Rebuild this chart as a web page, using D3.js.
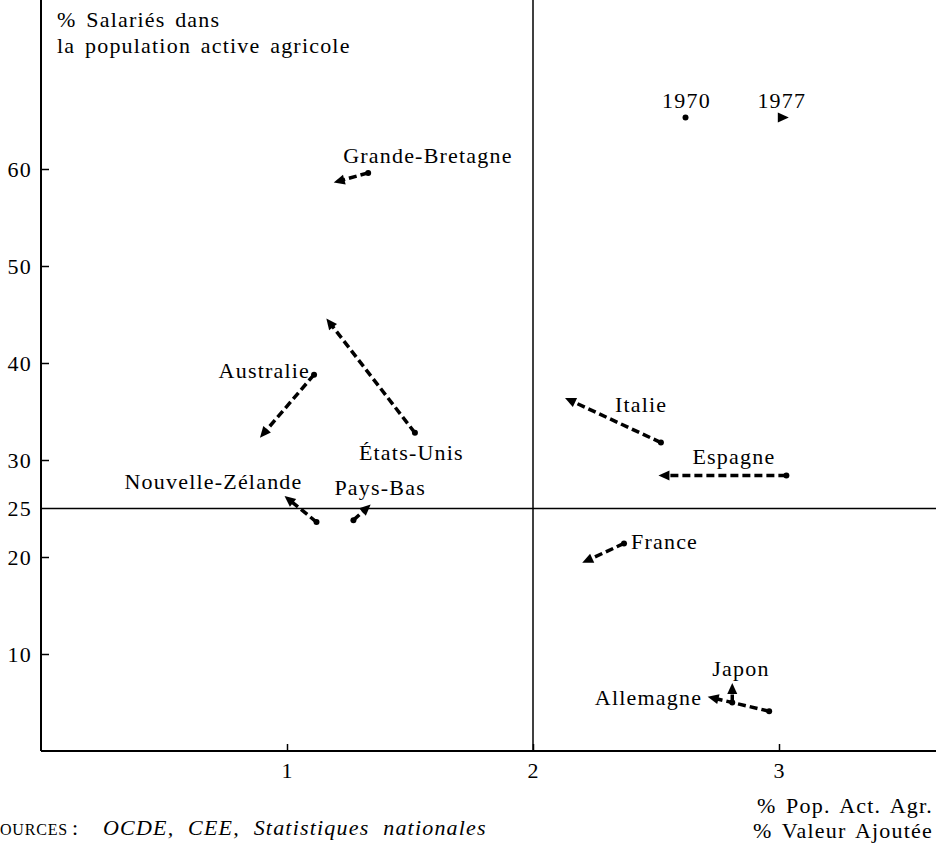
<!DOCTYPE html>
<html>
<head>
<meta charset="utf-8">
<script src="https://cdn.jsdelivr.net/npm/d3@7"></script>
<style>
  body { margin: 0; background: #fff; }
  svg { display: block; }
  text { font-family: "Liberation Serif", "DejaVu Serif", serif; fill: #000; }
</style>
</head>
<body>
<div id="chart"></div>
<script>
// country moves 1970 -> 1977
var countries = ["Grande-Bretagne", "États-Unis", "Australie", "Nouvelle-Zélande", "Pays-Bas",
                 "Italie", "Espagne", "France", "Japon", "Allemagne"];
var x1970 = [1.33, 1.52, 1.11, 1.12, 1.27, 2.52, 3.03, 2.37, 2.81, 2.96];
var y1970 = [59.6, 32.8, 38.8, 23.6, 23.8, 31.8, 28.4, 21.4, 5.0, 4.1];
var x1977 = [1.19, 1.16, 0.89, 0.99, 1.34, 2.13, 2.51, 2.20, 2.81, 2.71];
var y1977 = [58.6, 44.6, 32.3, 26.3, 25.4, 36.4, 28.4, 19.4, 7.0, 5.6];

var xTicks = [1, 2, 3];
var yTicks = [10, 20, 25, 30, 40, 50, 60];
var xSplit = 2;
var ySplit = 25;

// label placement, pixels from the 1970 point
var labelPos = {
    "Grande-Bretagne": [-25, -10, "start"],
    "États-Unis": [-56, 27, "start"],
    "Australie": [-4, 3, "end"],
    "Nouvelle-Zélande": [-14, -33, "end"],
    "Pays-Bas": [-19, -25, "start"],
    "Italie": [-46, -31, "start"],
    "Espagne": [-11, -12, "end"],
    "France": [7, 6, "start"],
    "Japon": [-20, -27, "start"],
    "Allemagne": [-67, -6, "end"]
};

var width = 936, height = 846;
var fontSize = 22;

var svg = d3.select("#chart").append("svg")
    .attr("width", width)
    .attr("height", height);

var x = d3.scaleLinear().domain([0, 3]).range([41, 779]);
var y = d3.scaleLinear().domain([0, 60]).range([751, 169]);

var textStyle = function(sel) {
    sel.style("font-size", fontSize + "px")
        .style("letter-spacing", "1.2px")
        .style("word-spacing", "3px");
};

// y axis
var yAxis = svg.append("g")
    .attr("transform", "translate(" + x(0) + ",0)")
    .call(d3.axisLeft(y).tickValues(yTicks).tickSize(-8).tickPadding(9).tickFormat(d3.format("d")));
yAxis.select(".domain").remove();
yAxis.selectAll(".tick").filter(function(d) { return d === ySplit; }).select("line").remove();
yAxis.selectAll("line").attr("stroke", "#000").attr("stroke-width", 1.5);
yAxis.selectAll("text").call(textStyle);

// x axis
var xAxis = svg.append("g")
    .attr("transform", "translate(0," + y(0) + ")")
    .call(d3.axisBottom(x).tickValues(xTicks).tickSize(-7).tickPadding(11).tickFormat(d3.format("d")));
xAxis.select(".domain").remove();
xAxis.selectAll("line").attr("stroke", "#000").attr("stroke-width", 1.5);
xAxis.selectAll("text").call(textStyle);

// axis lines and quadrant lines
svg.append("line")
    .attr("x1", x(0)).attr("x2", x(0))
    .attr("y1", 0).attr("y2", y(0))
    .attr("stroke", "#000").attr("stroke-width", 2);
svg.append("line")
    .attr("x1", x(0)).attr("x2", width)
    .attr("y1", y(0)).attr("y2", y(0))
    .attr("stroke", "#000").attr("stroke-width", 2);
svg.append("line")
    .attr("x1", x(xSplit)).attr("x2", x(xSplit))
    .attr("y1", 0).attr("y2", y(0))
    .attr("stroke", "#000").attr("stroke-width", 1.5);
svg.append("line")
    .attr("x1", x(0)).attr("x2", width)
    .attr("y1", y(ySplit)).attr("y2", y(ySplit))
    .attr("stroke", "#000").attr("stroke-width", 1.5);

// arrows
var headLen = 11, headHalf = 5;

var arrowHead = function(tx, ty, ang) {
    var bx = tx - headLen * Math.cos(ang), by = ty - headLen * Math.sin(ang);
    var px = -Math.sin(ang) * headHalf, py = Math.cos(ang) * headHalf;
    return [[tx, ty], [bx + px, by + py], [bx - px, by - py]];
};

var moves = countries.map(function(c, i) {
    return {name: c, x0: x1970[i], y0: y1970[i], x1: x1977[i], y1: y1977[i]};
});

var g = svg.append("g");

moves.forEach(function(d) {
    var sx = x(d.x0), sy = y(d.y0), ex = x(d.x1), ey = y(d.y1);
    var ang = Math.atan2(ey - sy, ex - sx);
    var lx = ex - (headLen - 2) * Math.cos(ang), ly = ey - (headLen - 2) * Math.sin(ang);

    g.append("line")
        .attr("x1", sx).attr("y1", sy)
        .attr("x2", lx).attr("y2", ly)
        .attr("stroke", "#000")
        .attr("stroke-width", 3.5)
        .attr("stroke-dasharray", "8,4");

    g.append("circle")
        .attr("cx", sx).attr("cy", sy).attr("r", 3)
        .attr("fill", "#000");

    g.append("polygon")
        .attr("points", arrowHead(ex, ey, ang).join(" "))
        .attr("fill", "#000");

    var lp = labelPos[d.name];
    g.append("text")
        .attr("x", sx + lp[0])
        .attr("y", sy + lp[1])
        .attr("text-anchor", lp[2])
        .text(d.name)
        .call(textStyle);
});

// legend
var legX0 = 2.62, legX1 = 3.04, legY = 65.3;
svg.append("circle")
    .attr("cx", x(legX0)).attr("cy", y(legY)).attr("r", 3)
    .attr("fill", "#000");
svg.append("polygon")
    .attr("points", arrowHead(x(legX1), y(legY), 0).join(" "))
    .attr("fill", "#000");
svg.append("text")
    .attr("x", x(legX0) + 1).attr("y", y(legY) - 10)
    .attr("text-anchor", "middle")
    .text("1970").call(textStyle);
svg.append("text")
    .attr("x", x(legX1) - 7).attr("y", y(legY) - 10)
    .attr("text-anchor", "middle")
    .text("1977").call(textStyle);

// titles
var yTitle = svg.append("text")
    .attr("x", 57).attr("y", 27)
    .call(textStyle);
yTitle.append("tspan").attr("x", 57).text("% Salariés dans");
yTitle.append("tspan").attr("x", 57).attr("dy", 26).text("la population active agricole");

var xTitle = svg.append("text")
    .attr("x", 933).attr("y", 813)
    .attr("text-anchor", "end")
    .call(textStyle);
xTitle.append("tspan").attr("x", 933).text("% Pop. Act. Agr.");
xTitle.append("tspan").attr("x", 933).attr("dy", 25).text("% Valeur Ajoutée");

var src = svg.append("text")
    .attr("x", 0).attr("y", 835)
    .call(textStyle);
src.append("tspan").style("font-size", "16px").style("letter-spacing", "0.8px").text("OURCES");
src.append("tspan").attr("x", 72).text(":");
src.append("tspan").attr("x", 103)
    .style("font-style", "italic")
    .style("word-spacing", "7px")
    .text("OCDE, CEE, Statistiques nationales");
</script>
</body>
</html>
